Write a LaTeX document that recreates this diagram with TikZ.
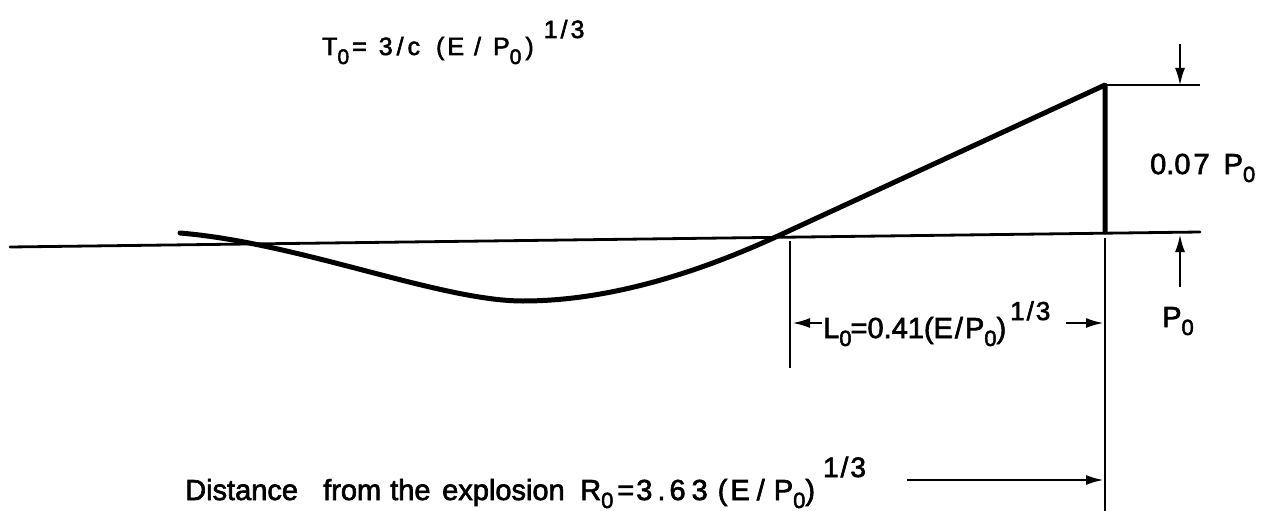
\documentclass[tikz,border=0pt]{standalone}
\usepackage{fontspec}
\setmainfont{Liberation Sans}[BoldFont={Liberation Sans},BoldFeatures={FakeBold=2.2}]
\usetikzlibrary{arrows.meta}
% \dsub{lower}{size}{text}, \dsup{raise}{size}{text}
\newcommand\dsub[3]{\raisebox{-#1}{\fontsize{#2}{#2}\selectfont #3}}
\newcommand\dsup[3]{\raisebox{#1}{\fontsize{#2}{#2}\selectfont #3}}
\begin{document}
\begin{tikzpicture}[x=1pt,y=-1pt,
  lbl/.style={anchor=base west, inner sep=0pt, font=\fontsize{29}{32}\selectfont\bfseries},
  toplbl/.style={anchor=base west, inner sep=0pt, font=\fontsize{25}{28}\selectfont\bfseries},
  axisline/.style={line width=2.8pt, line cap=round},
  curveline/.style={line width=5pt, line join=round, line cap=round},
  dimline/.style={line width=2.6pt},
  dimarrow/.style={line width=2.6pt, -{Latex[length=18pt,width=10pt]}}]
\useasboundingbox (0,0) rectangle (1274,511);
% axis and pulse shape
\coordinate (bl) at (10,247);
\coordinate (br) at (1200,232);
\coordinate (cs) at (180,233);
\coordinate (cmin) at (523,301);
\coordinate (cx) at (780,235);
\coordinate (peak) at (1105,85);
\coordinate (foot) at (1105,232);
\coordinate (topr) at (1200,85);
\coordinate (vlo) at (1105,238);
\coordinate (vbot) at (1105,511);
\coordinate (lv1) at (790,241);
\coordinate (lv2) at (790,368);
\draw[axisline] (bl) -- (br);
\draw[curveline] (cs) .. controls (300,243) and (440,301) .. (cmin)
   .. controls (610,301) and (700,272) .. (cx) -- (peak) -- (foot);
\draw[dimline] (peak) -- (topr);
\draw[dimline] (vlo) -- (vbot);
\draw[dimline] (lv1) -- (lv2);
% dimension arrows
\coordinate (da1) at (1180,44);
\coordinate (da2) at (1180,86);
\coordinate (ua1) at (1180,287);
\coordinate (ua2) at (1180,234);
\draw[dimarrow] (da1) -- (da2);
\draw[dimarrow] (ua1) -- (ua2);
\coordinate (la1) at (822,323);
\coordinate (la2) at (792,323);
\coordinate (ra1) at (1066,323);
\coordinate (ra2) at (1104,323);
\draw[dimarrow] (la1) -- (la2);
\draw[dimarrow] (ra1) -- (ra2);
\coordinate (ba1) at (907,480);
\coordinate (ba2) at (1104,480);
\draw[dimarrow] (ba1) -- (ba2);
% labels
\node[toplbl] (T) at (322,55) {T\dsub{9pt}{21}{0}\hspace{3pt}=\hspace{12pt}3\hspace{4pt}/\hspace{4pt}c\hspace{16pt}(\hspace{3pt}E\hspace{10pt}/\hspace{12pt}P\dsub{9pt}{21}{0}\hspace{4pt})\hspace{10pt}\dsup{17pt}{25}{1\hspace{3pt}/\hspace{3pt}3}};
\node[lbl] (A) at (1150,174) {0.0\hspace{3pt}7\hspace{14pt}P\dsub{8pt}{22}{0}};
\node[lbl] (P) at (1162,327) {P\dsub{8pt}{22}{0}};
\node[lbl] (L) at (823,338) {L\dsub{8pt}{22}{0}\hspace{-1pt}=0.41(E\hspace{2pt}/\hspace{2pt}P\dsub{8pt}{22}{0})\hspace{4pt}\dsup{18pt}{26}{1\hspace{2pt}/\hspace{2pt}3}};
\node[lbl] (w1) at (185,500) {Distance};
\node[lbl] (w2) at (323,500) {from};
\node[lbl] (w3) at (390,500) {the};
\node[lbl] (w4) at (442,500) {explosion};
\node[lbl] (w5) at (580,500) {R\dsub{8pt}{22}{0}\hspace{4pt}=\hspace{2pt}3\hspace{5pt}.\hspace{4pt}6\hspace{6pt}3\hspace{10pt}(\hspace{3pt}E\hspace{7pt}/\hspace{9pt}P\dsub{8pt}{22}{0})\hspace{8pt}\dsup{23pt}{28}{1\hspace{2pt}/\hspace{2pt}3}};
\end{tikzpicture}
\end{document}
